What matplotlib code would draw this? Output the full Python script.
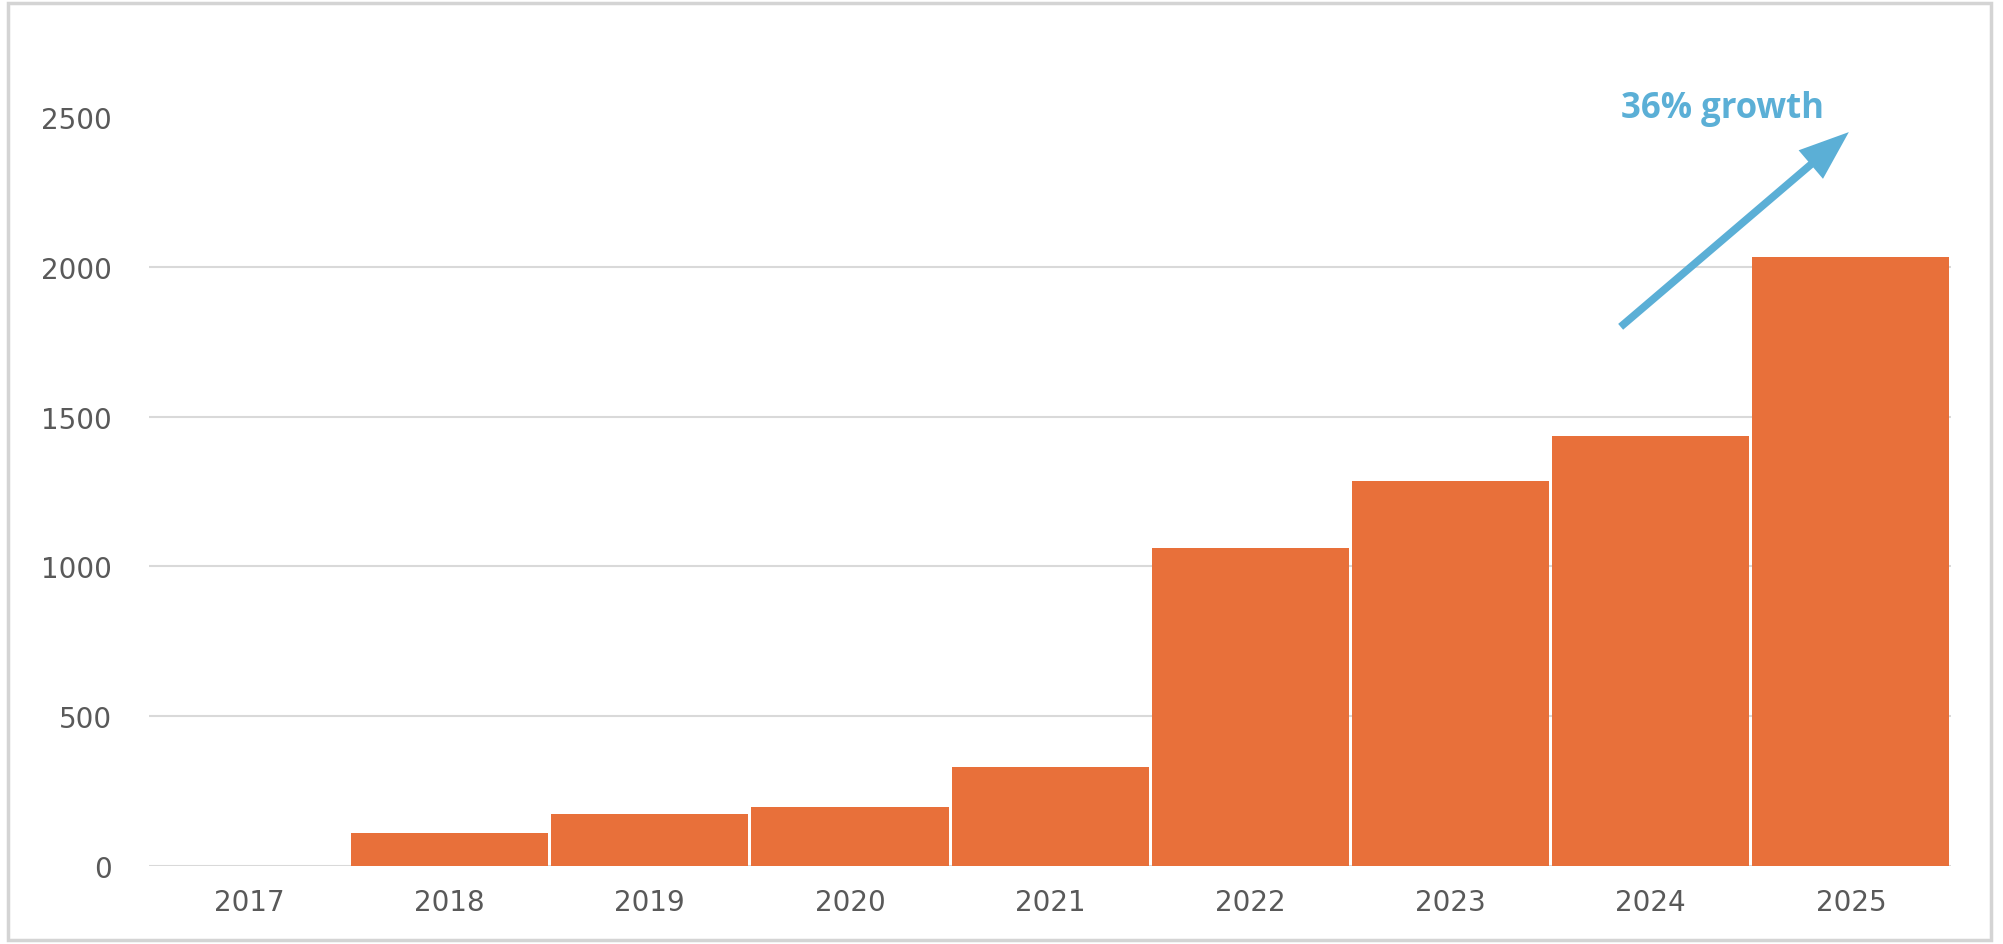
import matplotlib
matplotlib.use("Agg")
import matplotlib.pyplot as plt
from matplotlib.patches import Rectangle

years = ["2017", "2018", "2019", "2020", "2021", "2022", "2023", "2024", "2025"]
values = [0, 110, 174, 196, 332, 1060, 1285, 1434, 2034]
yticks = [0, 500, 1000, 1500, 2000, 2500]
note = "36% growth"
arrow_from = (6.85, 1800)
arrow_to = (7.99, 2450)

bar_color = "#E8703A"
blue = "#5BAFD6"
grid_color = "#D9D9D9"
label_color = "#595959"

fig = plt.figure(figsize=(20.03, 9.45), dpi=100)
ax = fig.add_axes([0.0746, 0.0825, 0.8994, 0.7925])

# light frame round the whole picture
fig.patches.append(Rectangle((0.004, 0.004), 0.990, 0.992, transform=fig.transFigure,
                             fill=False, edgecolor="#D4D4D4", linewidth=2.5))

for t in yticks[:-1]:
    ax.axhline(t, color=grid_color, linewidth=1.5, zorder=0)

x = range(len(years))
ax.bar(x, values, width=0.985, color=bar_color, zorder=2)

ax.set_xlim(-0.5, len(years) - 0.5)
ax.set_ylim(0, 2500)
ax.set_xticks(list(x))
ax.set_xticklabels(years)
ax.set_yticks(yticks)
ax.set_yticklabels([str(t) for t in yticks])
ax.tick_params(axis="both", length=0, labelsize=20, labelcolor=label_color)
ax.tick_params(axis="x", pad=16)
ax.tick_params(axis="y", pad=27)
for s in ax.spines.values():
    s.set_visible(False)

ax.annotate("", xy=arrow_to, xytext=arrow_from, annotation_clip=False,
            arrowprops=dict(facecolor=blue, edgecolor="none", width=5.5,
                            headwidth=27, headlength=36, shrink=0))
ax.text(6.85, 2530, note, color=blue, fontsize=25, fontweight="bold",
        family=["Open Sans", "DejaVu Sans"], ha="left", va="center", clip_on=False)

fig.savefig("out.png", dpi=100)
